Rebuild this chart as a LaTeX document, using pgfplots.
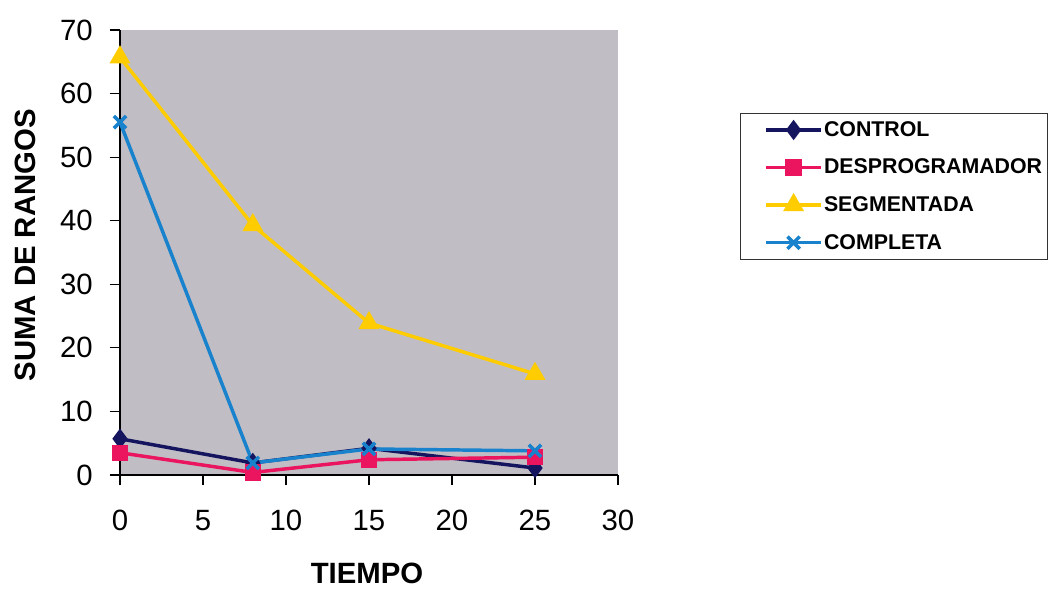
\documentclass[border=0pt]{standalone}
\usepackage{fontspec}
\setmainfont{Liberation Sans}
\usepackage{pgfplots}
\pgfplotsset{compat=1.18}
\definecolor{cctrl}{RGB}{20,20,95}
\definecolor{cdesp}{RGB}{235,20,95}
\definecolor{cseg}{RGB}{255,204,0}
\definecolor{ccomp}{RGB}{25,130,205}
\definecolor{bggray}{RGB}{192,189,196}
\begin{document}
\begin{tikzpicture}
\path[use as bounding box] (-90pt,-86.25pt) rectangle (702pt,356.25pt);
\begin{axis}[
  at={(0,0)}, anchor=south west,
  scale only axis, width=373.5pt, height=333.75pt,
  xmin=0, xmax=30, ymin=0, ymax=70,
  xtick={0,5,...,30}, ytick={0,10,...,70},
  axis x line*=bottom, axis y line*=left,
  axis line style={black, line width=1pt, -},
  axis background/.style={fill=bggray},
  tick align=outside, major tick length=7.5pt,
  tick style={black, line width=0.9pt},
  clip=false,
  /pgf/number format/assume math mode=true,
  tick label style={font=\fontsize{22}{26}\selectfont},
  yticklabel style={inner sep=0pt, anchor=east, xshift=-12.75pt},
  xticklabel style={inner sep=0pt, anchor=north, yshift=-18.75pt},
  xlabel={TIEMPO}, ylabel={SUMA DE RANGOS},
  every axis x label/.style={at={(axis description cs:0.496,-0.222)}, anchor=center, font=\fontsize{22}{26}\selectfont\bfseries},
  every axis y label/.style={at={(axis description cs:-0.1908,0.516)}, anchor=center, rotate=90, font=\fontsize{22}{26}\selectfont\bfseries},
  legend image code/.code={\path (-15pt,0pt); \draw[#1, mark repeat=2, mark phase=2] plot coordinates {(0pt,0pt) (20.5pt,0pt) (41pt,0pt)};},
  legend cell align=left,
  legend style={at={(axis description cs:1.245,0.8135)}, anchor=north west,
    draw=black!80, line width=0.8pt, fill=white,
    font=\fontsize{16}{19}\selectfont\bfseries,
    inner xsep=3pt, inner ysep=5pt, row sep=13.5pt,
    nodes={inner sep=1pt}},
]
\addplot[cctrl, line width=2.6pt, mark=diamond*, mark size=5.5pt, mark options={solid}] coordinates {(0,5.7) (8,1.9) (15,4.2) (25,1.1)};
\addlegendentry{CONTROL}
\addplot[cdesp, line width=2.6pt, mark=square*, mark size=4.8pt] coordinates {(0,3.5) (8,0.4) (15,2.4) (25,2.8)};
\addlegendentry{DESPROGRAMADOR}
\addplot[cseg, line width=2.6pt, mark=triangle*, mark size=6.5pt] coordinates {(0,65.7) (8,39.3) (15,23.9) (25,15.9)};
\addlegendentry{SEGMENTADA}
\addplot[ccomp, line width=2.6pt, mark=x, mark size=6.5pt, mark options={line width=2.6pt}] coordinates {(0,55.5) (8,1.9) (15,4.1) (25,3.8)};
\addlegendentry{COMPLETA}
\end{axis}
\end{tikzpicture}
\end{document}
